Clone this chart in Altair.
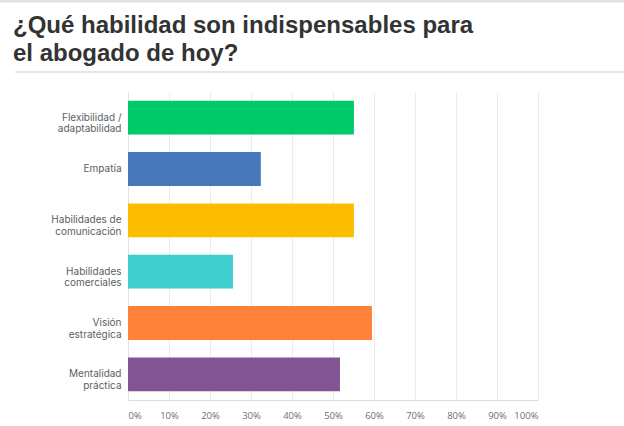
import altair as alt
import pandas as pd

categories = [
    "Flexibilidad /\nadaptabilidad",
    "Empatía",
    "Habilidades de\ncomunicación",
    "Habilidades\ncomerciales",
    "Visión\nestratégica",
    "Mentalidad\npráctica",
]
values = [0.551, 0.324, 0.551, 0.256, 0.595, 0.517]
colors = ["#00C96B", "#4878BC", "#FEBE00", "#3FCDCE", "#FF8238", "#815493"]
title_lines = ["¿Qué habilidad son indispensables para", "el abogado de hoy?"]

df = pd.DataFrame({"cat": categories, "val": values})
one = pd.DataFrame({"k": [0]})

bars = alt.Chart(df).mark_bar().encode(
    x=alt.X(
        "val:Q",
        scale=alt.Scale(domain=[0, 1], nice=False),
        axis=alt.Axis(
            format="%",
            values=[i / 10 for i in range(11)],
            title=None,
            grid=True,
            gridColor="#ececec",
            domainColor="#dcdcdc",
            ticks=False,
            labelFlush=True,
            labelPadding=10,
            labelFont="Open Sans",
            labelFontSize=9.5,
            labelColor="#6b6f75",
        ),
    ),
    y=alt.Y(
        "cat:N",
        sort=categories,
        scale=alt.Scale(paddingInner=0.34, paddingOuter=0.17),
        axis=alt.Axis(
            title=None,
            ticks=False,
            domain=True,
            domainColor="#e2e2e2",
            labelExpr="split(datum.label, '\\n')",
            labelPadding=7,
            labelFont="Inter",
            labelFontSize=10,
            labelLineHeight=11.6,
            labelColor="#5a5e63",
            labelLimit=200,
        ),
    ),
    color=alt.Color("cat:N", scale=alt.Scale(domain=categories, range=colors), legend=None),
)

rule_under = alt.Chart(one).mark_rule(color="#e6e6e6", strokeWidth=2).encode(
    x=alt.value(-113), x2=alt.value(500), y=alt.value(-20)
)
rule_top = alt.Chart(one).mark_rule(color="#e0e0e0", strokeWidth=3).encode(
    x=alt.value(-130), x2=alt.value(500), y=alt.value(-91)
)

title_style = dict(
    align="left",
    baseline="alphabetic",
    font="Liberation Sans",
    fontSize=24,
    fontWeight="bold",
    color="#333333",
)
t1 = alt.Chart(one).mark_text(**title_style).encode(
    x=alt.value(-115), y=alt.value(-59), text=alt.value(title_lines[0])
)
t2 = alt.Chart(one).mark_text(**title_style).encode(
    x=alt.value(-115), y=alt.value(-31), text=alt.value(title_lines[1])
)

chart = alt.layer(bars, rule_under, rule_top, t1, t2).properties(
    width=410,
    height=308,
    padding={"left": 128, "top": 92, "right": 86, "bottom": 26},
    autosize=alt.AutoSizeParams(type="none"),
).configure_view(stroke=None)

chart.save("out.html", embed_options={"renderer": "svg", "actions": False})
